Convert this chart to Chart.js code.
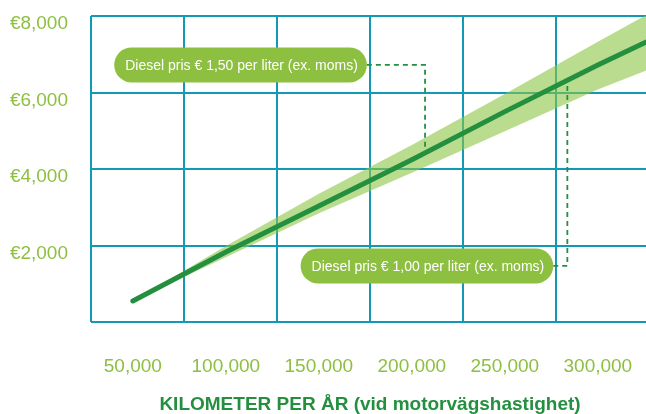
<!DOCTYPE html>
<html>
<head>
<meta charset="utf-8">
<script src="https://cdn.jsdelivr.net/npm/chart.js@4"></script>
<style>
  html, body { margin: 0; padding: 0; background: #fff; overflow: hidden; }
  #wrap { width: 700px; height: 414px; }
</style>
</head>
<body>
<div id="wrap"><canvas id="chart" width="700" height="414"></canvas></div>
<script>
/* --------------------------
   DATA
--------------------------- */
// kilometer per år (x) and yearly cost in € (y)
const km       = [50000, 100000, 150000, 200000, 250000, 300000, 326000];
const costMid  = [550, 1830, 3030, 4240, 5500, 6720, 7320];
const costHigh = [550, 1990, 3350, 4630, 5960, 7330, 8025];
const costLow  = [550, 1690, 2840, 3900, 4990, 6080, 6575];

const kmTicks   = [50000, 100000, 150000, 200000, 250000, 300000];
const kmGrid    = [27500, 77500, 127500, 177500, 227500, 277500, 327500];
const costTicks = [0, 2000, 4000, 6000, 8000];

const xTitle = 'KILOMETER PER ÅR (vid motorvägshastighet)';

// callouts: pill text, pill centre and the point the dashed line goes to
const calloutText = ['Diesel pris € 1,50 per liter (ex. moms)', 'Diesel pris € 1,00 per liter (ex. moms)'];
const calloutKm   = [107900, 208100];
const calloutCost = [6720, 1465];
const targetKm    = [207100, 283600];
const targetCost  = [4575, 6220];

/* --------------------------
   STYLE
--------------------------- */
const FONT = '"Liberation Sans", Arial, Helvetica, sans-serif';
const lightGreen = '#8dbf41';
const darkGreen = '#24903f';
const gridColor = '#1299b6';

const pts = arr => arr.map((v, i) => ({ x: km[i], y: v }));

// pills + dashed connectors
const calloutPlugin = {
    id: 'callouts',
    afterDatasetsDraw(chart) {
        const { ctx, scales: { x, y } } = chart;
        ctx.save();
        ctx.font = '14px ' + FONT;
        calloutText.forEach((txt, i) => {
            const cx = x.getPixelForValue(calloutKm[i]);
            const cy = y.getPixelForValue(calloutCost[i]);
            const tx = x.getPixelForValue(targetKm[i]);
            const ty = y.getPixelForValue(targetCost[i]);
            const w = ctx.measureText(txt).width + 20;
            const h = 35;

            ctx.setLineDash([5, 4]);
            ctx.strokeStyle = darkGreen;
            ctx.lineWidth = 1.8;
            ctx.beginPath();
            ctx.moveTo(cx + w / 2, cy);
            ctx.lineTo(tx, cy);
            ctx.lineTo(tx, ty);
            ctx.stroke();
            ctx.setLineDash([]);

            ctx.fillStyle = lightGreen;
            ctx.beginPath();
            ctx.roundRect(cx - w / 2, cy - h / 2, w, h, h / 2);
            ctx.fill();

            ctx.fillStyle = '#fff';
            ctx.textAlign = 'center';
            ctx.textBaseline = 'middle';
            ctx.fillText(txt, cx + 1, cy + 1);
        });
        ctx.restore();
    }
};

/* --------------------------
   CHART
--------------------------- */
new Chart(document.getElementById('chart'), {
    type: 'line',
    data: {
        datasets: [
            {
                data: pts(costHigh),
                borderWidth: 0,
                pointRadius: 0,
                backgroundColor: 'rgba(140,196,66,0.6)',
                fill: '+1',
                order: 2
            },
            {
                data: pts(costLow),
                borderWidth: 0,
                pointRadius: 0,
                fill: false,
                order: 2
            },
            {
                data: pts(costMid),
                borderColor: darkGreen,
                borderWidth: 5,
                borderCapStyle: 'round',
                pointRadius: 0,
                fill: false,
                order: 0
            }
        ]
    },
    options: {
        responsive: false,
        animation: false,
        layout: { padding: { left: 10, top: 16, right: 51, bottom: 0 } },
        plugins: { legend: { display: false }, tooltip: { enabled: false } },
        scales: {
            x: {
                type: 'linear',
                position: 'bottom',
                min: 27500,
                max: 327500,
                afterBuildTicks: s => { s.ticks = kmTicks.map(v => ({ value: v })); },
                afterFit: s => { s.height = 92; },
                grid: { display: false, drawTicks: false },
                border: { display: false },
                ticks: {
                    color: lightGreen,
                    font: { family: FONT, size: 19 },
                    padding: 33,
                    maxRotation: 0,
                    autoSkip: false,
                    callback: v => v.toLocaleString('en-US')
                },
                title: {
                    display: true,
                    text: xTitle,
                    color: darkGreen,
                    font: { family: FONT, size: 19, weight: 'bold', lineHeight: 1 },
                    padding: { top: 17, bottom: 0 }
                }
            },
            xg: {
                type: 'linear',
                position: 'top',
                min: 27500,
                max: 327500,
                afterBuildTicks: s => { s.ticks = kmGrid.map(v => ({ value: v })); },
                afterFit: s => { s.height = 0; s.paddingLeft = 0; s.paddingRight = 0; },
                ticks: { display: false },
                grid: { color: gridColor, lineWidth: 2, drawTicks: false },
                border: { display: false }
            },
            y: {
                min: 0,
                max: 8000,
                afterBuildTicks: s => { s.ticks = costTicks.map(v => ({ value: v })); },
                afterFit: s => { s.width = 81; s.paddingTop = 0; s.paddingBottom = 0; },
                grid: { color: gridColor, lineWidth: 2, drawTicks: false },
                border: { display: false },
                ticks: {
                    color: lightGreen,
                    font: { family: FONT, size: 19 },
                    padding: 23,
                    labelOffset: 8,
                    callback: v => v ? '€' + v.toLocaleString('en-US') : ''
                }
            }
        }
    },
    plugins: [calloutPlugin]
});
</script>
</body>
</html>
